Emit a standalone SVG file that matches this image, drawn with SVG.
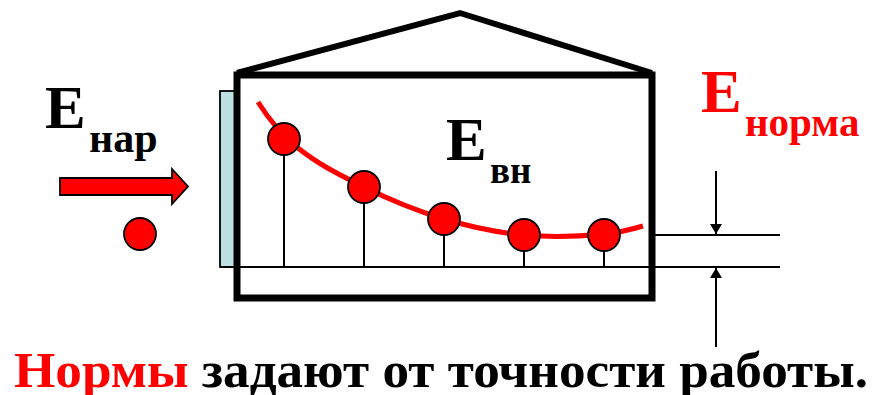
<svg xmlns="http://www.w3.org/2000/svg" width="883" height="395" viewBox="0 0 883 395">
<defs>
<style>
.thin{stroke:#000;stroke-width:2;fill:none}
.dot{fill:#ff0000;stroke:#000;stroke-width:1.8}
.t{font-family:"Liberation Serif","Times New Roman","DejaVu Serif",serif;font-weight:bold}
.red{fill:#ff0000}
.blk{fill:#000}
</style>
<marker id="ah" viewBox="0 0 10 12" refX="10" refY="6" markerWidth="10" markerHeight="12" markerUnits="userSpaceOnUse" orient="auto">
<path d="M0,0 L10,6 L0,12 Z" fill="#000"/>
</marker>
</defs>
<rect width="883" height="395" fill="#fff"/>
<g id="house">
<rect x="220" y="91" width="15" height="176" fill="#bee0e2" stroke="#000" stroke-width="1.8"/>
<rect x="237" y="75" width="415" height="223" fill="none" stroke="#000" stroke-width="7"/>
<polyline points="237,73 460,13 652,73" fill="none" stroke="#000" stroke-width="6"/>
</g>
<g id="connectors">
<line class="thin" x1="220" y1="267" x2="780" y2="267"/>
<line class="thin" x1="655" y1="235" x2="780" y2="235"/>
<line class="thin" x1="716" y1="171" x2="716" y2="234" marker-end="url(#ah)"/>
<line class="thin" x1="716" y1="347" x2="716" y2="268" marker-end="url(#ah)"/>
<line class="thin" x1="284" y1="139" x2="284" y2="267"/>
<line class="thin" x1="364" y1="187" x2="364" y2="267"/>
<line class="thin" x1="444" y1="219" x2="444" y2="267"/>
<line class="thin" x1="524" y1="235" x2="524" y2="267"/>
<line class="thin" x1="604" y1="234" x2="604" y2="267"/>
<polygon points="60,178 172,178 172,169 188,186.5 172,204 172,195 60,195" fill="#ff0000" stroke="#000" stroke-width="1.8"/>
</g>
<g id="curve">
<path d="M258,102 C271.3,123.3 284.7,137.3 298,148 C320,165.6 342,176 364,187 C390.7,200.3 417.3,211 444,219 C470.7,227 497.3,232.5 524,235 C550.7,237.5 577.3,236.7 604,234 C617,232.7 630,229.9 643,226" fill="none" stroke="#ff0000" stroke-width="5"/>
</g>
<g id="dots">
<circle class="dot" cx="284" cy="139" r="16"/>
<circle class="dot" cx="364" cy="187" r="16"/>
<circle class="dot" cx="444" cy="219" r="16"/>
<circle class="dot" cx="524" cy="235" r="16"/>
<circle class="dot" cx="604" cy="235" r="16"/>
<circle class="dot" cx="140" cy="234" r="16"/>
</g>
<g id="label-nar">
<text class="t blk" x="45" y="128" font-size="61">E</text>
<text class="t blk" x="89" y="152" font-size="42">нар</text>
</g>
<g id="label-vn">
<text class="t blk" x="446" y="160" font-size="61">E</text>
<text class="t blk" x="490" y="183" font-size="37">вн</text>
</g>
<g id="label-norma">
<text class="t red" x="701" y="112" font-size="61">E</text>
<text class="t red" x="745" y="136" font-size="41">норма</text>
</g>
<g id="caption">
<text class="t" x="14" y="386.5" font-size="50" textLength="854" lengthAdjust="spacingAndGlyphs"><tspan class="red">Нормы</tspan><tspan class="blk"> задают от точности работы.</tspan></text>
</g>
</svg>
